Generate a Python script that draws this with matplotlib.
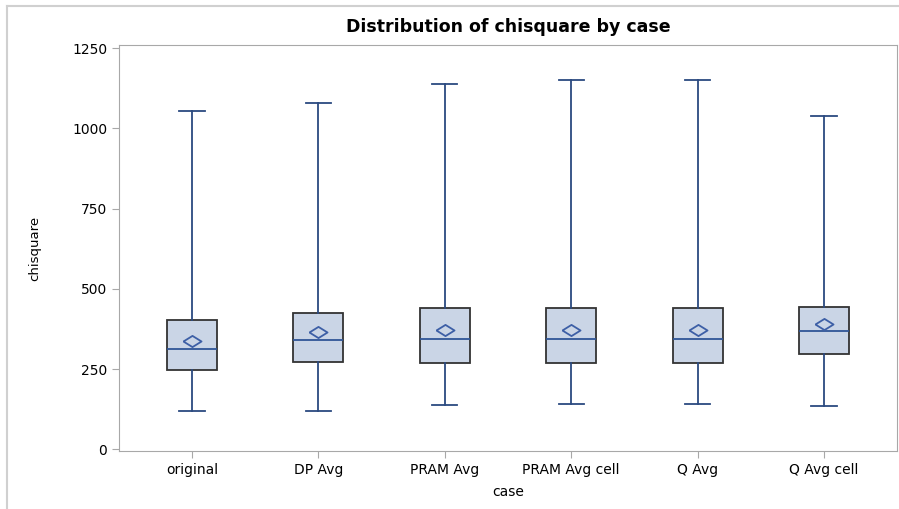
import matplotlib
matplotlib.use('Agg')
import matplotlib.pyplot as plt
from matplotlib.lines import Line2D

cases = ['original', 'DP Avg', 'PRAM Avg', 'PRAM Avg cell', 'Q Avg', 'Q Avg cell']
whislo = [120, 120, 137, 140, 140, 136]
q1 = [246, 272, 269, 269, 269, 298]
med = [313, 342, 345, 345, 345, 369]
q3 = [404, 425, 440, 440, 440, 444]
whishi = [1055, 1080, 1139, 1152, 1152, 1040]
means = [338, 366, 371, 371, 371, 390]

plt.rcParams['font.family'] = ['DejaVu Sans']

stats = []
for i in range(len(cases)):
    stats.append({'label': cases[i], 'whislo': whislo[i], 'q1': q1[i], 'med': med[i],
                  'q3': q3[i], 'whishi': whishi[i], 'mean': means[i], 'fliers': []})

fig = plt.figure(figsize=(8.99, 5.09), dpi=100)
ax = fig.add_axes([0.1324, 0.114, 0.8654, 0.7976])

diamond = [(-1, 0), (0, 0.62), (1, 0), (0, -0.62), (-1, 0)]
ax.bxp(stats, positions=range(len(cases)), widths=0.395, patch_artist=True,
       showmeans=True,
       boxprops=dict(facecolor='#CAD5E6', edgecolor='#333333', linewidth=1.3),
       whiskerprops=dict(color='#2B4A80', linewidth=1.3),
       capprops=dict(color='#2B4A80', linewidth=1.3),
       capwidths=0.2,
       medianprops=dict(color='#2F5597', linewidth=1.3),
       meanprops=dict(marker=diamond, markersize=13, markerfacecolor='none',
                      markeredgecolor='#3D5FA6', markeredgewidth=1.3))

ax.set_xlim(-0.577, 5.577)
ax.set_ylim(-5, 1260)
ax.set_yticks([0, 250, 500, 750, 1000, 1250])
for s in ax.spines.values():
    s.set_color('#A8A8A8')
ax.tick_params(axis='both', colors='#A8A8A8', labelcolor='black', labelsize=10, length=5)
ax.set_xticklabels(cases, fontsize=10)
ax.set_xlabel('case', fontsize=10, labelpad=6)
ax.set_ylabel('chisquare', fontsize=9.5, labelpad=22)
ax.set_title('Distribution of chisquare by case', fontsize=12.5, fontweight='bold', pad=9)

# outer frame lines (top and left)
fig.add_artist(Line2D([7 / 899, 1], [1 - 6 / 509, 1 - 6 / 509], color='#D0D0D0', linewidth=1.5))
fig.add_artist(Line2D([7 / 899, 7 / 899], [0, 1 - 6 / 509], color='#D0D0D0', linewidth=1.5))

fig.savefig('out.png', dpi=100)
